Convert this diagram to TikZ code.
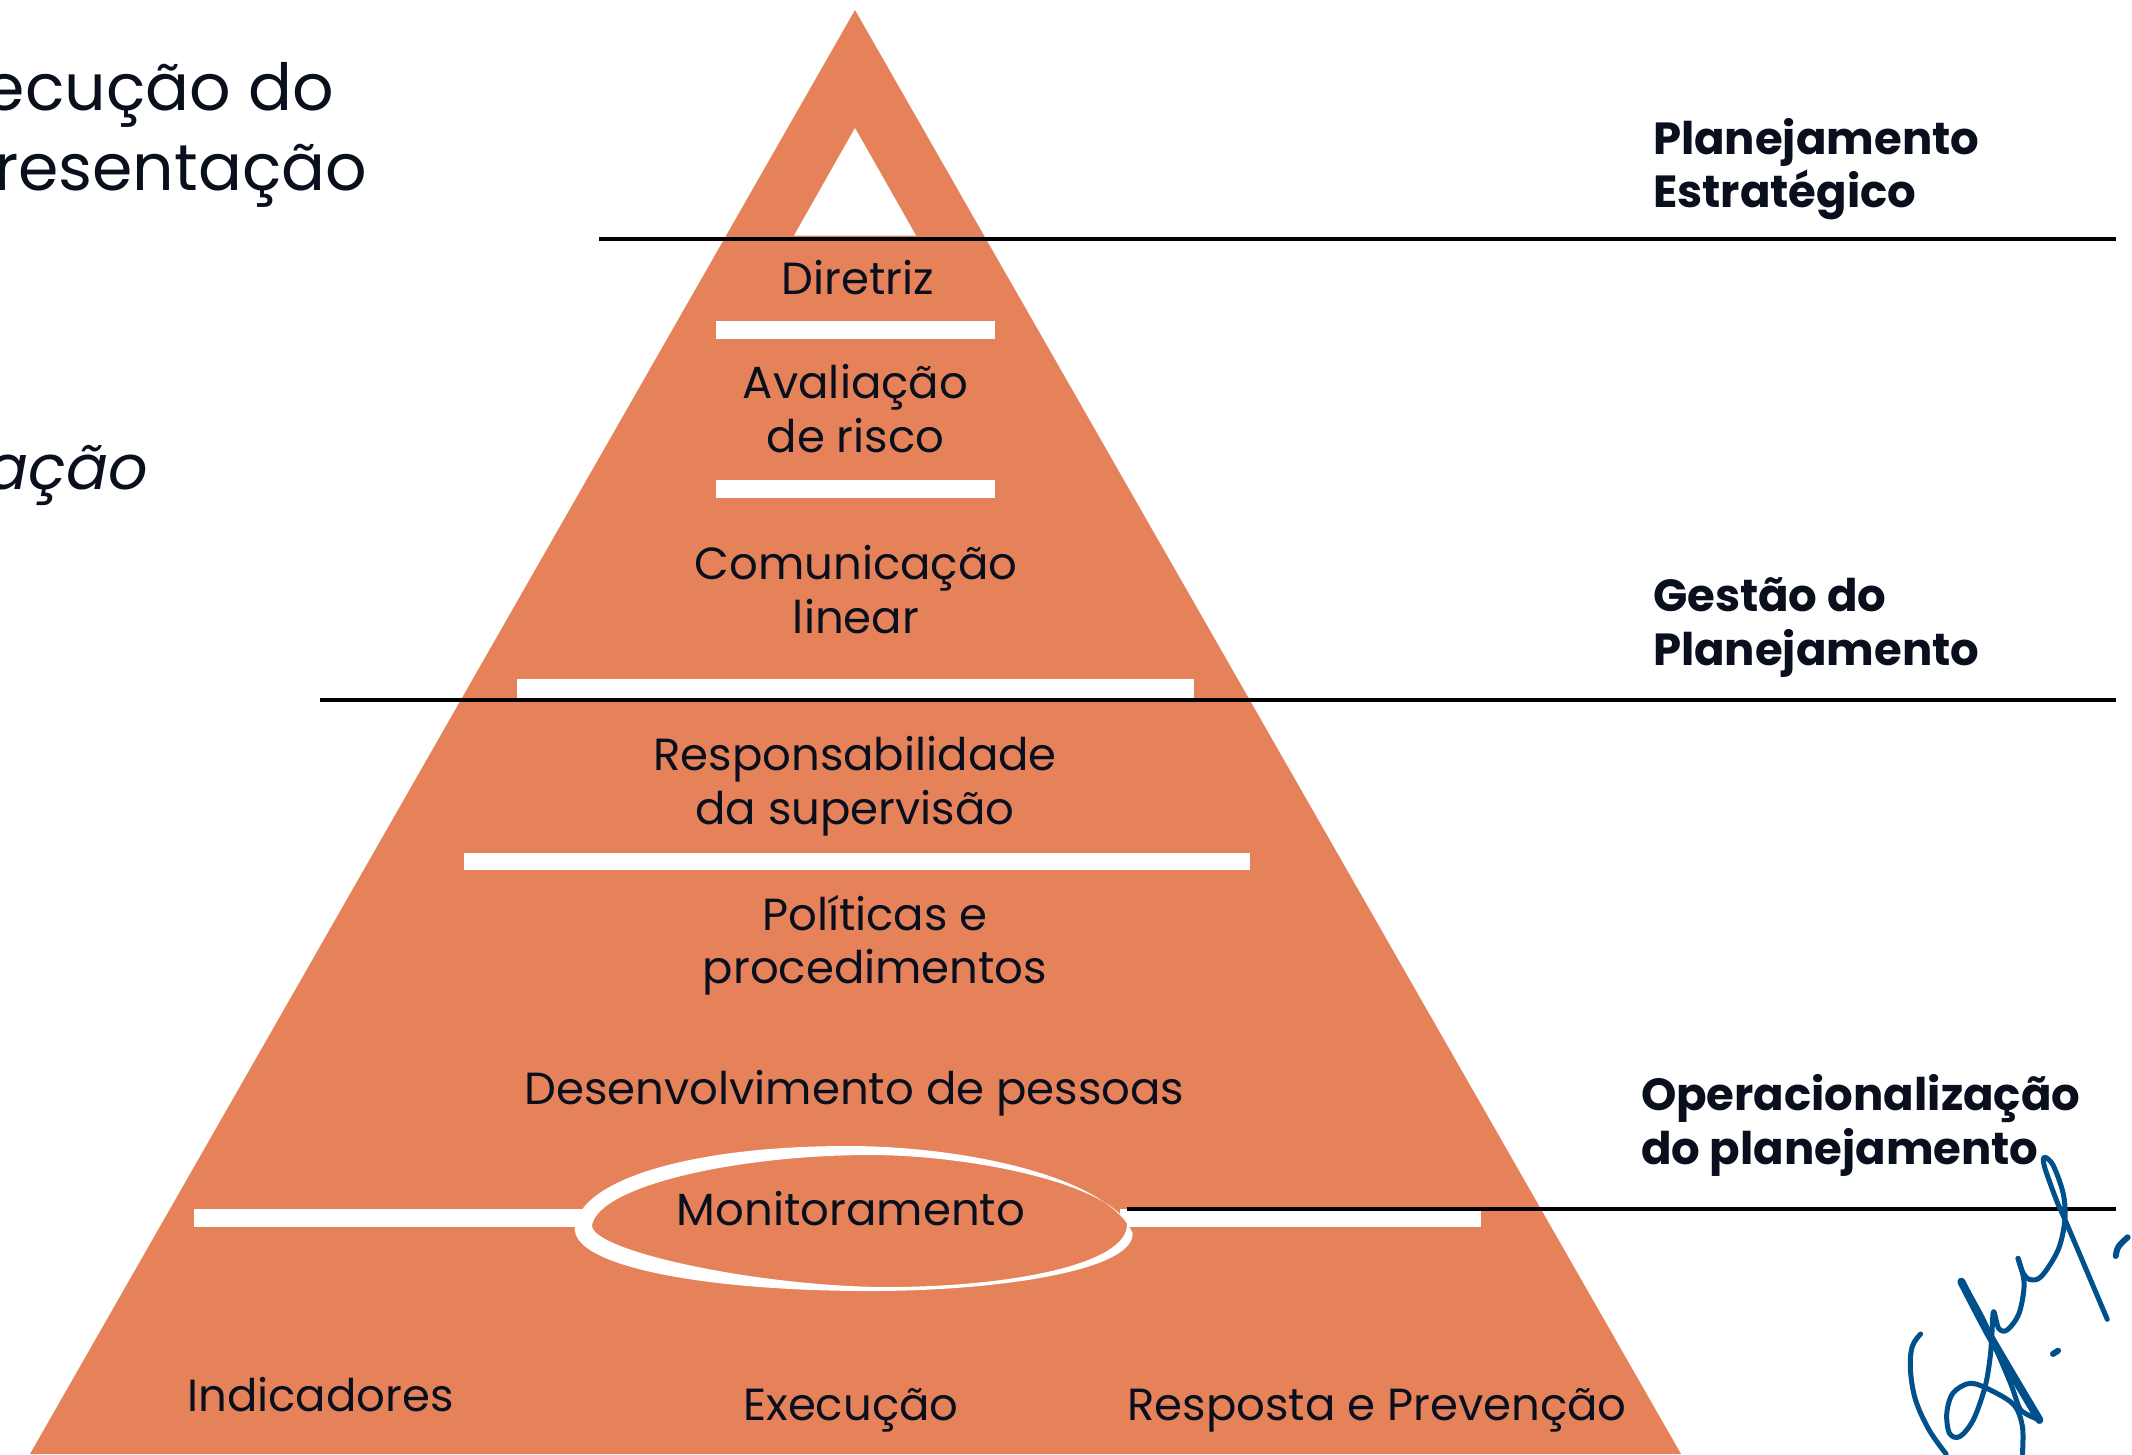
\documentclass[tikz,border=0pt]{standalone}
\usepackage{fontspec}
\setmainfont{Poppins}
\definecolor{ink}{HTML}{0A0F1E}
\definecolor{orangeP}{HTML}{E6825A}
\definecolor{signblue}{HTML}{00508C}
\tikzset{
  lbl/.style={inner sep=0pt,outer sep=0pt,anchor=base,align=center,text=ink,font=\fontsize{45}{53.5}\selectfont},
  head/.style={inner sep=0pt,outer sep=0pt,anchor=base west,align=left,text=ink,font=\fontsize{45}{54}\selectfont\bfseries},
  big/.style={inner sep=0pt,outer sep=0pt,anchor=base east,align=right,text=ink,font=\fontsize{65}{80}\selectfont},
  bar/.style={fill=white,draw=none},
  rule/.style={draw=black,line width=4pt},
  sign/.style={draw=signblue,line width=5pt,line cap=round,line join=round},
}
\begin{document}
\begin{tikzpicture}[x=1pt,y=-1pt]
\path[use as bounding box,clip] (0,0) rectangle (2132,1454);
\fill[white] (0,0) rectangle (2132,1454);
% pyramid
\fill[orangeP] (855,10) -- (1681,1454) -- (30,1454) -- cycle;
\fill[white] (855,128) -- (916,235.5) -- (794,235.5) -- cycle;
% bars
\fill[bar] (716,321) rectangle (995,339);
\fill[bar] (716,480) rectangle (995,498);
\fill[bar] (517,679) rectangle (1194,698);
\fill[bar] (464,852.5) rectangle (1250,870);
\fill[bar] (194,1209) rectangle (585,1227);
\fill[bar] (1120,1209) rectangle (1481,1227);
% hand drawn ring
\fill[orangeP] (592,1225) .. controls (600,1185) and (740,1155) .. (870,1155) .. controls (970,1155) and (1105,1183) .. (1127,1223) .. controls (1130,1266) and (1000,1288) .. (879,1287) .. controls (750,1285) and (590,1250) .. (592,1225) -- cycle;
\fill[white,even odd rule]
  (575,1227) .. controls (580,1180) and (690,1146) .. (848,1146) .. controls (960,1146) and (1106,1175) .. (1132.6,1233) .. controls (1135,1270) and (1000,1291) .. (870.5,1291) .. controls (700,1291) and (570,1265) .. (575,1227) -- cycle
  (592,1225) .. controls (600,1185) and (740,1155) .. (870,1155) .. controls (970,1155) and (1105,1183) .. (1127,1223) .. controls (1130,1266) and (1000,1288) .. (879,1287) .. controls (750,1285) and (590,1250) .. (592,1225) -- cycle;
% rules
\draw[rule] (599,238.5) -- (2116,238.5);
\draw[rule] (320,700) -- (2116,700);
\draw[rule] (1127,1209) -- (2116,1209);
% texts in the pyramid
\node[lbl] (diretriz) at (858,294) {Diretriz};
\node[lbl] (aval) at (855.5,398) {Avaliação};
\node[lbl] (risco) at (855.5,452.5) {de risco};
\node[lbl] (comu) at (856,579.5) {Comunicação};
\node[lbl] (linear) at (856,633) {linear};
\node[lbl] (resp) at (855,770) {Responsabilidade};
\node[lbl] (superv) at (855,824) {da supervisão};
\node[lbl] (polit) at (875,930) {Políticas e};
\node[lbl] (proced) at (875,983.5) {procedimentos};
\node[lbl] (desenv) at (854.5,1104) {Desenvolvimento de pessoas};
\node[lbl] (monit) at (851,1225) {Monitoramento};
\node[lbl] (indic) at (320.5,1411) {Indicadores};
\node[lbl] (exec) at (851,1420) {Execução};
\node[lbl] (prev) at (1377,1420) {Resposta e Prevenção};
% side headings
\node[head] (h1a) at (1653,154.5) {Planejamento};
\node[head] (h1b) at (1653,207.5) {Estratégico};
\node[head] (h2a) at (1653,611.5) {Gestão do};
\node[head] (h2b) at (1653,665.5) {Planejamento};
\node[head] (h3a) at (1641,1110) {Operacionalização};
\node[head] (h3b) at (1641,1164) {do planejamento};
% cropped text at the left
\node[big] (t1) at (334,110) {ecução do};
\node[big] (t2) at (367,190) {resentação};
\node[big,font=\fontsize{62}{80}\selectfont\itshape] (t3) at (148,489) {iação};
% signature
\begin{scope}[shift={(1600,1050)},x=0.3393pt,y=-0.3333pt]
\draw[sign] plot[smooth,tension=.55] coordinates {(1495,808)(1375,520)(1345,450)(1310,350)(1310,322)(1335,345)(1365,430)(1370,510)(1350,600)(1300,680)(1265,688)(1245,665)(1232,625)};
\draw[sign] plot[smooth,tension=.55] coordinates {(1232,625)(1250,700)(1235,790)(1200,840)(1175,835)(1160,785)(1155,850)(1150,920)(1135,1010)(1100,1110)(1060,1160)(1030,1150)(1022,1090)(1040,1030)(1090,1000)(1150,1020)(1220,1065)(1245,1130)(1245,1212)};
\draw[sign,line width=8pt] plot[smooth,tension=.4] coordinates {(1065,695)(1150,860)(1295,1110)};
\draw[sign] plot[smooth,tension=.4] coordinates {(1295,1110)(1240,1080)(1210,1000)(1130,810)(1075,710)};
\draw[sign] plot[smooth,tension=.6] coordinates {(945,852)(920,890)(915,960)(930,1050)(970,1140)(1020,1212)};
\draw[sign,line width=6pt] (1335,912) -- (1350,902);
\draw[sign,line width=6pt] plot[smooth,tension=.6] coordinates {(1555,562)(1528,590)(1520,618)};
\end{scope}
\end{tikzpicture}
\end{document}
